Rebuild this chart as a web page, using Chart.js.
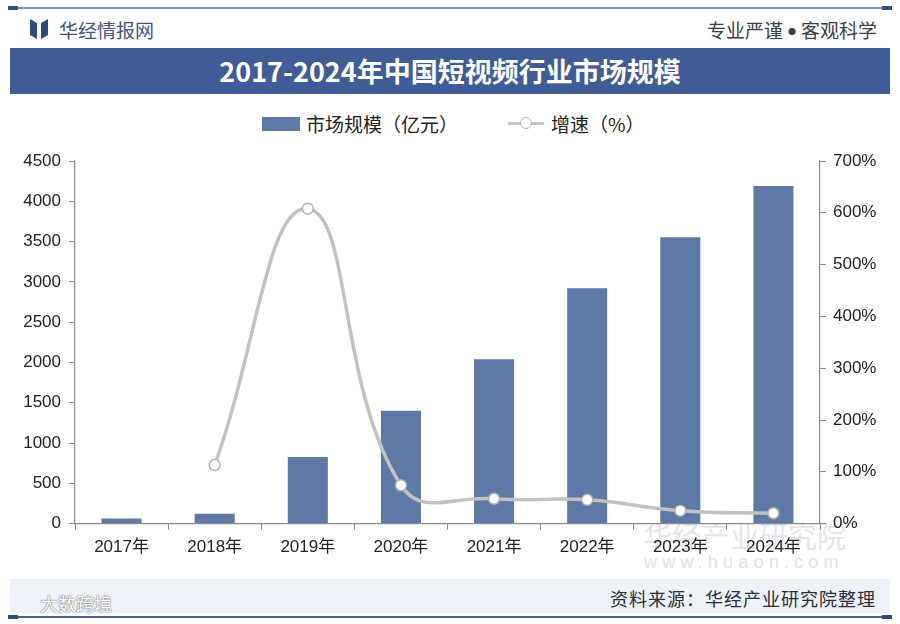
<!DOCTYPE html>
<html>
<head>
<meta charset="utf-8">
<script src="https://cdn.jsdelivr.net/npm/chart.js@4.4.1/dist/chart.umd.min.js"></script>
<style>
  html, body { margin:0; padding:0; width:900px; height:624px; background:#ffffff; overflow:hidden;
    font-family:"Liberation Sans","Noto Sans CJK SC",sans-serif; }
  .abs { position:absolute; }
  #topline { left:8px; top:7px; width:884px; height:2px; background:#7d8db0; }
  #topline:before, #topline:after { content:""; position:absolute; top:-1px; width:10px; height:4px; background:#2f4a7c; }
  #topline:before { left:0; } #topline:after { right:0; }
  #logo { left:30px; top:19px; width:18px; height:20px; }
  #brand { left:59px; top:16px; font-size:19px; color:#3f5480; font-family:"Noto Sans CJK SC",sans-serif; }
  #slogan { right:23px; top:16px; font-size:19px; color:#3a3f4a; font-family:"Noto Sans CJK SC",sans-serif; }
  #band { left:10px; top:48px; width:880px; height:46px; background:#3f5c96; }
  #title { left:10px; top:48px; width:880px; height:46px; line-height:46px; text-align:center; color:#fff;
    font-size:27px; font-weight:bold; font-family:"Noto Sans CJK SC",sans-serif; }
  #legend { left:0; top:110px; width:900px; height:28px; font-family:"Noto Sans CJK SC",sans-serif; font-size:19px; color:#222; }
  #wm1 { left:643px; top:514px; font-size:29px; color:#e4e6ea; font-family:"Noto Sans CJK SC",sans-serif; }
  #wm2 { left:644px; top:552px; font-size:18px; color:#e0e2e7; letter-spacing:5.2px; font-family:"Liberation Sans",sans-serif; }
  #footband { left:10px; top:579px; width:880px; height:34px; background:#eef2f8; }
  #source { right:24px; top:585px; font-size:18px; color:#2a2f38; font-family:"Noto Sans CJK SC",sans-serif; letter-spacing:1px; }
  #botline { left:8px; top:616px; width:884px; height:2px; background:#4a6190; }
  #botline:before, #botline:after { content:""; position:absolute; top:-1px; width:10px; height:4px; background:#2f4a7c; }
  #botline:before { left:0; } #botline:after { right:0; }
  #dsk { left:40px; top:590px; font-size:18px; color:#ffffff; font-family:"Noto Sans CJK SC",sans-serif;
    text-shadow: 0 0 1px #7a808a, 0 0 1px #7a808a, 0 0 2px #9aa0aa; }
  #wrap { left:0; top:140px; width:900px; height:430px; }
</style>
</head>
<body>
<div id="topline" class="abs"></div>
<svg id="logo" class="abs" viewBox="0 0 18 20">
  <polygon points="0,0 7,4 7,20 0,16" fill="#2f4a7c"/>
  <polygon points="18,0 11,4 11,20 18,16" fill="#2f4a7c"/>
</svg>
<div id="brand" class="abs">华经情报网</div>
<div id="slogan" class="abs">专业严谨<span style="font-size:8px;vertical-align:3px;margin:0 5px;">●</span>客观科学</div>
<div id="band" class="abs"></div>
<div id="title" class="abs">2017-2024年中国短视频行业市场规模</div>
<div id="legend" class="abs">
  <div class="abs" style="left:262px;top:7px;width:38px;height:14px;background:#5f79a6;"></div>
  <div class="abs" style="left:306px;top:0px;">市场规模（亿元）</div>
  <div class="abs" style="left:508px;top:12px;width:36px;height:3px;background:#c4c4c4;"></div>
  <div class="abs" style="left:520px;top:7px;width:10px;height:10px;border:1.5px solid #b5b5b5;border-radius:50%;background:#fff;"></div>
  <div class="abs" style="left:551px;top:0px;">增速（%）</div>
</div>
<div id="wm1" class="abs">华经产业研究院</div>
<div id="wm2" class="abs">www.huaon.com</div>
<div id="footband" class="abs"></div>
<div id="source" class="abs">资料来源：华经产业研究院整理</div>
<div id="dsk" class="abs">大数跨境</div>
<div id="botline" class="abs"></div>
<div id="wrap" class="abs"><canvas id="c" width="900" height="430"></canvas></div>
<script>
const years = ['2017年','2018年','2019年','2020年','2021年','2022年','2023年','2024年'];
const marketSize = [62, 122, 825, 1400, 2040, 2920, 3555, 4190];
const growthRate = [null, 113, 608, 74, 48, 46, 25, 20];
const leftMax = 4500, leftStep = 500;
const rightMax = 700, rightStep = 100;

const axisColor = '#8c8c8c';
const tickFont = { family: '"Liberation Sans","Noto Sans CJK SC",sans-serif', size: 17 };

new Chart(document.getElementById('c'), {
  data: {
    labels: years,
    datasets: [
      {
        type: 'bar', label: '市场规模（亿元）', data: marketSize, yAxisID: 'y',
        backgroundColor: '#5f79a6', borderWidth: 0,
        barPercentage: 0.43, categoryPercentage: 1.0, order: 2
      },
      {
        type: 'line', label: '增速（%）', data: growthRate, yAxisID: 'y1',
        borderColor: '#c2c2c2', borderWidth: 3.5, tension: 0.45,
        pointRadius: 5.5, pointBackgroundColor: '#ffffff', pointBorderColor: '#b0b0b0',
        pointBorderWidth: 1.5, spanGaps: false, order: 1
      }
    ]
  },
  options: {
    responsive: false, animation: false,
    layout: { padding: { top: 21, bottom: 4, left: 0, right: 0 } },
    plugins: { legend: { display: false }, tooltip: { enabled: false } },
    scales: {
      x: {
        offset: true,
        grid: { display: true, drawOnChartArea: false, drawTicks: true, tickLength: 6, color: axisColor, offset: true },
        border: { display: true, color: axisColor, width: 1.2 },
        ticks: { color: '#222', font: tickFont, padding: 8, maxRotation: 0 }
      },
      y: {
        position: 'left', min: 0, max: leftMax,
        afterFit: s => { s.width = 75; },
        grid: { display: true, drawOnChartArea: false, drawTicks: true, tickLength: 6, color: axisColor },
        border: { display: true, color: axisColor, width: 1.2 },
        ticks: { stepSize: leftStep, color: '#222', font: tickFont, padding: 8, callback: v => String(v) }
      },
      y1: {
        position: 'right', min: 0, max: rightMax,
        afterFit: s => { s.width = 80; },
        grid: { display: true, drawOnChartArea: false, drawTicks: true, tickLength: 6, color: axisColor },
        border: { display: true, color: axisColor, width: 1.2 },
        ticks: { stepSize: rightStep, color: '#222', font: tickFont, padding: 7, callback: v => v + '%' }
      }
    }
  }
});
</script>
</body>
</html>
